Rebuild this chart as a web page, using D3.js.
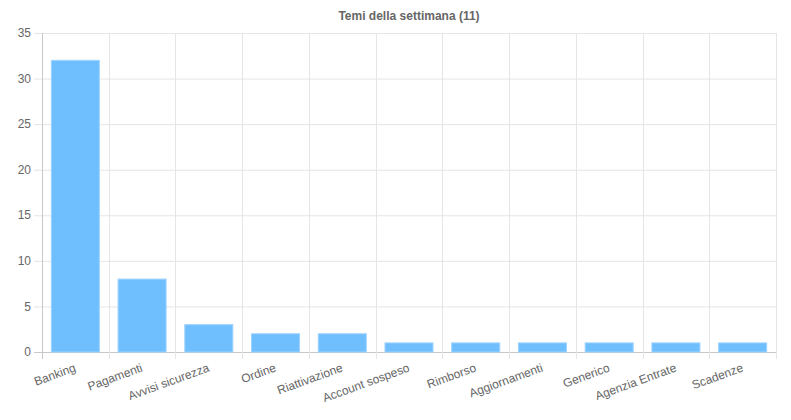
<script src="https://d3js.org/d3.v7.min.js"></script>
<style>
  body { margin: 0; background: #fff; }
  svg text { font-family: "Liberation Sans", Arial, sans-serif; }
</style>
<svg id="chart" width="791" height="420"></svg>
<script>
  const categories = ["Banking", "Pagamenti", "Avvisi sicurezza", "Ordine", "Riattivazione",
    "Account sospeso", "Rimborso", "Aggiornamenti", "Generico", "Agenzia Entrate", "Scadenze"];
  const counts = [32, 8, 3, 2, 2, 1, 1, 1, 1, 1, 1];
  const yTicks = [0, 5, 10, 15, 20, 25, 30, 35];

  const svg = d3.select("#chart");
  const margin = {top: 33, right: 15, bottom: 68, left: 42};
  const width = +svg.attr("width") - margin.left - margin.right;
  const height = +svg.attr("height") - margin.top - margin.bottom;

  const x = d3.scaleBand().domain(categories).range([0, width]);
  const y = d3.scaleLinear().domain([0, 35]).range([height, 0]);

  const g = svg.append("g")
    .attr("transform", `translate(${margin.left},${margin.top})`);

  // title
  svg.append("text")
    .attr("x", margin.left + width / 2)
    .attr("y", 20)
    .attr("text-anchor", "middle")
    .style("font-size", "12px")
    .style("font-weight", "bold")
    .style("fill", "#666")
    .text("Temi della settimana (11)");

  // horizontal grid + y labels
  g.selectAll(".hgrid")
    .data(yTicks)
    .enter().append("line")
    .attr("x1", -8)
    .attr("x2", width)
    .attr("y1", d => y(d) + 0.5)
    .attr("y2", d => y(d) + 0.5)
    .attr("stroke", d => d === 0 ? "#c8c8c8" : "#e5e5e5");

  g.selectAll(".ylab")
    .data(yTicks)
    .enter().append("text")
    .attr("x", -11)
    .attr("y", d => y(d))
    .attr("dy", "0.35em")
    .attr("text-anchor", "end")
    .style("font-size", "12px")
    .style("fill", "#666")
    .text(d => d);

  // vertical grid at category boundaries
  const bounds = categories.map(c => x(c)).concat([width]);
  g.selectAll(".vgrid")
    .data(bounds)
    .enter().append("line")
    .attr("x1", d => Math.round(d) + 0.5)
    .attr("x2", d => Math.round(d) + 0.5)
    .attr("y1", 0)
    .attr("y2", height + 7)
    .attr("stroke", (d, i) => i === 0 ? "#c8c8c8" : "#e5e5e5");

  // bars (80% category, 90% bar)
  const barW = x.bandwidth() * 0.72;
  g.selectAll(".bar")
    .data(counts)
    .enter().append("rect")
    .attr("x", (d, i) => x(categories[i]) + (x.bandwidth() - barW) / 2)
    .attr("y", d => y(d))
    .attr("width", barW)
    .attr("height", d => height - y(d))
    .attr("fill", "#6fbfff")
    .attr("stroke", "#9fd3ff")
    .attr("stroke-width", 1);

  // x labels
  g.selectAll(".xlab")
    .data(categories)
    .enter().append("text")
    .attr("transform", d => `translate(${x(d) + x.bandwidth() / 2 - 2},${height + 10}) rotate(-20)`)
    .attr("dy", "0.8em")
    .attr("text-anchor", "end")
    .style("font-size", "12px")
    .style("fill", "#666")
    .text(d => d);
</script>
